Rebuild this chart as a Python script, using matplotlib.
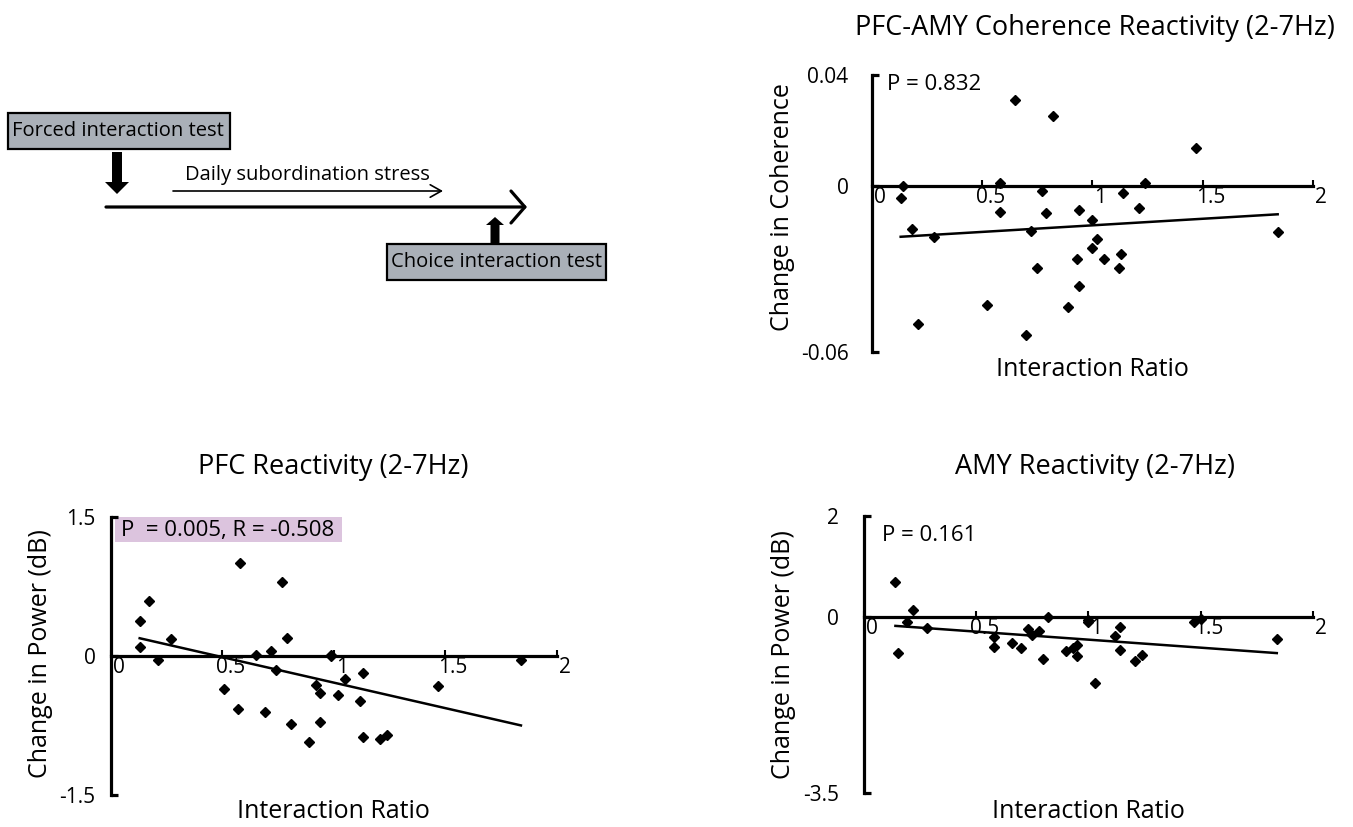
import numpy as np
import matplotlib
matplotlib.use("Agg")
import matplotlib.pyplot as plt
from matplotlib.patches import Rectangle, FancyArrow
from matplotlib.transforms import ScaledTranslation

plt.rcParams['font.family'] = ['Open Sans', 'DejaVu Sans']

# ================================
# data
# ================================
# PFC-AMY coherence vs interaction ratio
coh_x = [0.14, 0.13, 0.18, 0.21, 0.28, 0.52, 0.58, 0.58, 0.65, 0.70, 0.72, 0.75, 0.77, 0.79, 0.82,
         0.89, 0.93, 0.94, 0.94, 1.00, 1.00, 1.02, 1.05, 1.12, 1.13, 1.14, 1.21, 1.24, 1.47, 1.84]
coh_y = [0.0000, -0.0042, -0.0156, -0.0497, -0.0185, -0.0429, 0.0012, -0.0095, 0.0310, -0.0537,
         -0.0162, -0.0295, -0.0017, -0.0098, 0.0253, -0.0437, -0.0263, -0.0085, -0.0359, -0.0123,
         -0.0223, -0.0191, -0.0264, -0.0295, -0.0246, -0.0024, -0.0078, 0.0010, 0.0137, -0.0165]
coh_fit_x = [0.13, 1.84]
coh_fit_y = [-0.0183, -0.0102]

# PFC power
pfc_x = [0.13, 0.17, 0.13, 0.21, 0.27, 0.51, 0.57, 0.58, 0.65, 0.69, 0.72, 0.74, 0.77, 0.79, 0.81,
         0.89, 0.92, 0.94, 0.94, 0.99, 0.99, 1.02, 1.05, 1.12, 1.13, 1.13, 1.21, 1.24, 1.47, 1.84]
pfc_y = [0.38, 0.59, 0.10, -0.05, 0.18, -0.36, -0.57, 1.00, 0.01, -0.60, 0.05, -0.15, 0.80, 0.19, -0.73,
         -0.93, -0.31, -0.40, -0.71, 0.00, 0.01, -0.42, -0.25, -0.49, -0.18, -0.87, -0.90, -0.85, -0.33, -0.04]
pfc_fit_x = [0.13, 1.84]
pfc_fit_y = [0.19, -0.75]

# AMY power
amy_x = [0.14, 0.15, 0.19, 0.22, 0.28, 0.58, 0.58, 0.66, 0.70, 0.73, 0.75, 0.78, 0.80, 0.82, 0.90,
         0.93, 0.95, 0.95, 1.00, 1.00, 1.03, 1.12, 1.14, 1.14, 1.21, 1.24, 1.47, 1.50, 1.84]
amy_y = [0.70, -0.72, -0.10, 0.13, -0.23, -0.40, -0.59, -0.51, -0.62, -0.25, -0.36, -0.28, -0.83, 0.00, -0.68,
         -0.62, -0.56, -0.78, -0.11, -0.07, -1.32, -0.38, -0.66, -0.21, -0.88, -0.75, -0.10, -0.05, -0.45]
amy_fit_x = [0.14, 1.84]
amy_fit_y = [-0.18, -0.72]

x_ticks = [0, 0.5, 1, 1.5, 2]
x_tick_labels = ["0", "0.5", "1", "1.5", "2"]

fig = plt.figure(figsize=(13.53, 8.27), dpi=100)


def scatter_panel(rect, xs, ys, fx, fy, ylim, ytick_labels, title, ylabel, ptext,
                  ylabel_pos, xlabel_y, title_pos, ptext_pos, ypad):
    ax = fig.add_axes(rect)
    ax.plot(xs, ys, linestyle="none", marker="D", ms=4.8, color="black", clip_on=False, zorder=3)
    ax.plot(fx, fy, color="black", lw=1.8, zorder=3)

    ax.set_xlim(0, 2)
    ax.set_ylim(*ylim)
    for s in ["top", "right"]:
        ax.spines[s].set_visible(False)
    ax.spines["bottom"].set_position(("data", 0))
    ax.spines["bottom"].set_linewidth(2.3)
    ax.spines["left"].set_linewidth(2.3)

    ax.set_yticks([ylim[0], 0, ylim[1]])
    ax.set_yticklabels(ytick_labels)
    ax.tick_params(axis="y", direction="in", length=5, width=2.3, pad=ypad, labelsize=15)
    ax.set_xticks(x_ticks)
    ax.set_xticklabels(x_tick_labels)
    ax.tick_params(axis="x", direction="in", length=4, width=1.5, pad=1, labelsize=15)
    offset = ScaledTranslation(8 / 100, 0, fig.dpi_scale_trans)
    for lab in ax.get_xticklabels():
        lab.set_transform(lab.get_transform() + offset)

    ax.set_xlabel("Interaction Ratio", fontsize=18, va="center")
    ax.xaxis.set_label_coords(0.5, xlabel_y)
    ax.set_ylabel(ylabel, fontsize=18, va="center")
    ax.yaxis.set_label_coords(*ylabel_pos)
    ax.text(title_pos[0], title_pos[1], title, transform=ax.transAxes, ha="center", va="center", fontsize=19.5)
    ax.text(ptext_pos[0], ptext_pos[1], ptext, transform=ax.transAxes, ha="left", va="center", fontsize=16)
    ax.set_facecolor("none")
    return ax


# top right: coherence
scatter_panel([0.6445, 0.5738, 0.3259, 0.3355], coh_x, coh_y, coh_fit_x, coh_fit_y,
              (-0.06, 0.04), ["-0.06", "0", "0.04"],
              "PFC-AMY Coherence Reactivity (2-7Hz)", "Change in Coherence", "P = 0.832",
              (-0.202, 0.524), -0.06, (0.505, 1.169), (0.034, 0.964), 17)

# bottom left: PFC
ax_pfc = scatter_panel([0.0818, 0.0387, 0.3296, 0.3365], pfc_x, pfc_y, pfc_fit_x, pfc_fit_y,
                       (-1.5, 1.5), ["-1.5", "0", "1.5"],
                       "PFC Reactivity (2-7Hz)", "Change in Power (dB)", "P  = 0.005, R = -0.508",
                       (-0.158, 0.51), -0.061, (0.5, 1.179), (0.023, 0.952), 11)
ax_pfc.add_patch(Rectangle((0.01, 0.909), 0.509, 0.09, transform=ax_pfc.transAxes,
                           facecolor="#dcc4de", edgecolor="none", clip_on=False, zorder=0))

# bottom right: AMY
scatter_panel([0.6386, 0.0408, 0.3316, 0.3353], amy_x, amy_y, amy_fit_x, amy_fit_y,
              (-3.5, 2), ["-3.5", "0", "2"],
              "AMY Reactivity (2-7Hz)", "Change in Power (dB)", "P = 0.161",
              (-0.18, 0.5), -0.067, (0.515, 1.177), (0.04, 0.931), 18)

# ================================
# timeline diagram (pixel coords)
# ================================
ax0 = fig.add_axes([0, 0, 1, 1], zorder=-1)
ax0.set_xlim(0, 1353)
ax0.set_ylim(827, 0)
ax0.axis("off")

box_color = "#aab0b8"
ax0.add_patch(Rectangle((8, 113), 222, 36, facecolor=box_color, edgecolor="black", lw=1.6))
ax0.text(12, 131, "Forced interaction test", ha="left", va="center", fontsize=14.5)
ax0.add_patch(Rectangle((387, 244), 219, 36, facecolor=box_color, edgecolor="black", lw=1.6))
ax0.text(391, 262, "Choice interaction test", ha="left", va="center", fontsize=14.5)

ax0.add_patch(FancyArrow(117, 152, 0, 42, width=10, head_width=24, head_length=12,
                         length_includes_head=True, color="black", lw=0))
ax0.add_patch(FancyArrow(495, 243, 0, -26, width=9, head_width=18, head_length=8,
                         length_includes_head=True, color="black", lw=0))

ax0.annotate("", xy=(443, 191), xytext=(173, 191),
             arrowprops=dict(arrowstyle="->,head_length=0.8,head_width=0.45", lw=1.2, color="black",
                             shrinkA=0, shrinkB=0))
ax0.annotate("", xy=(527, 207), xytext=(106, 207),
             arrowprops=dict(arrowstyle="->,head_length=1.0,head_width=1.15", lw=2.3, color="black",
                             shrinkA=0, shrinkB=0))
ax0.text(185, 175, "Daily subordination stress", ha="left", va="center", fontsize=14.5)

fig.savefig("out.png", dpi=100)
